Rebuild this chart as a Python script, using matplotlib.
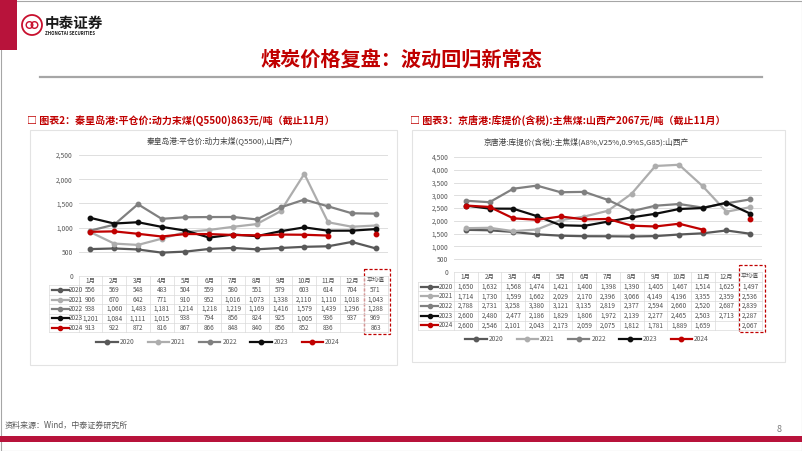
import numpy as np
import matplotlib
matplotlib.use("Agg")
import matplotlib.pyplot as plt
import matplotlib.transforms as mtransforms
from matplotlib.patches import Rectangle, Circle
from matplotlib.lines import Line2D
from matplotlib.ticker import FuncFormatter

plt.rcParams['font.family'] = ['Noto Sans CJK SC', 'DejaVu Sans']

# ---------------------------------------------------------------------------
# data
# ---------------------------------------------------------------------------
months = ["1月", "2月", "3月", "4月", "5月", "6月", "7月", "8月", "9月",
          "10月", "11月", "12月", "平均值"]
years = ["2020", "2021", "2022", "2023", "2024"]
year_colors = ["#595959", "#ADADAD", "#808080", "#0D0D0D", "#C00000"]

nan = np.nan
# 秦皇岛港 平仓价 动力末煤 Q5500 (last value = 平均值)
qhd_2020 = [556, 569, 548, 483, 504, 559, 580, 551, 579, 603, 614, 704, 571]
qhd_2021 = [906, 670, 642, 771, 910, 952, 1016, 1073, 1338, 2110, 1110, 1018, 1043]
qhd_2022 = [938, 1060, 1483, 1181, 1214, 1218, 1219, 1169, 1416, 1579, 1439, 1296, 1288]
qhd_2023 = [1201, 1084, 1111, 1015, 938, 794, 856, 824, 925, 1005, 936, 937, 969]
qhd_2024 = [913, 922, 872, 816, 867, 866, 848, 840, 856, 852, 836, nan, 863]

# 京唐港 库提价 主焦煤 山西产
jt_2020 = [1650, 1632, 1568, 1474, 1421, 1400, 1398, 1390, 1405, 1467, 1514, 1625, 1497]
jt_2021 = [1714, 1730, 1599, 1662, 2029, 2170, 2396, 3066, 4149, 4196, 3355, 2359, 2536]
jt_2022 = [2788, 2731, 3258, 3380, 3121, 3135, 2819, 2377, 2594, 2660, 2520, 2687, 2839]
jt_2023 = [2600, 2480, 2477, 2186, 1829, 1806, 1972, 2139, 2277, 2465, 2503, 2713, 2287]
jt_2024 = [2600, 2546, 2101, 2043, 2173, 2059, 2075, 1812, 1781, 1889, 1659, nan, 2067]

RED = "#C00000"
W, H = 802, 451

fig = plt.figure(figsize=(W / 100, H / 100), dpi=100)
canvas = fig.add_axes([0, 0, 1, 1], zorder=0)
canvas.set_xlim(0, W)
canvas.set_ylim(H, 0)
canvas.axis('off')


def px_axes(x0, x1, ytop, ybot):
    """axes placed by pixel box (y measured from top)"""
    return fig.add_axes([x0 / W, 1 - ybot / H, (x1 - x0) / W, (ybot - ytop) / H], zorder=2)


# ---------------------------------------------------------------------------
# slide frame
# ---------------------------------------------------------------------------
canvas.add_patch(Rectangle((0.5, 0.5), W - 1, H - 1, fill=False, ec="#A6A6A6", lw=0.8))
canvas.add_patch(Rectangle((0, 0), 17, 50, color="#B8133B", lw=0))
canvas.add_patch(Circle((32, 25), 10, fill=False, ec="#C8102E", lw=1.3))
canvas.add_patch(Circle((29.5, 25), 3.3, fill=False, ec="#C8102E", lw=1.0))
canvas.add_patch(Circle((34.5, 25), 3.3, fill=False, ec="#C8102E", lw=1.0))
canvas.text(45, 23, "中泰证券", fontsize=10.5, fontweight='bold', color="#1A1A1A", va='center')
canvas.text(45, 33.5, "ZHONGTAI SECURITIES", fontsize=3.2, fontweight='bold', color="#1A1A1A", va='center')

canvas.text(401, 59, "煤炭价格复盘：波动回归新常态", fontsize=14.5, fontweight='bold',
            color=RED, ha='center', va='center')
canvas.plot([40, 762], [77, 77], color="#A6A6A6", lw=1.6)

canvas.text(27, 121, "□ 图表2：秦皇岛港:平仓价:动力末煤(Q5500)863元/吨（截止11月）",
            fontsize=7.2, fontweight='bold', color=RED, va='center')
canvas.text(410, 121, "□ 图表3：京唐港:库提价(含税):主焦煤:山西产2067元/吨（截止11月）",
            fontsize=7.2, fontweight='bold', color=RED, va='center')

canvas.add_patch(Rectangle((30, 130), 367, 235, fc="white", ec="#E3E3E3", lw=0.8))
canvas.add_patch(Rectangle((412, 130), 373, 232, fc="white", ec="#E3E3E3", lw=0.8))

canvas.text(5, 425, "资料来源：Wind，中泰证券研究所", fontsize=5.8, color="#595959", va='center')
canvas.text(777, 429, "8", fontsize=6.5, color="#7F7F7F", va='center')
canvas.add_patch(Rectangle((0, 436), W, 5.5, color="#B8133B", lw=0))


# ---------------------------------------------------------------------------
# chart + excel-style data table
# ---------------------------------------------------------------------------
def draw_chart(ax, data, ymax, title, tx, ty, top, rh, lab_px, leg_x, leg_y):
    n = len(months)
    x = np.arange(n)
    handles = []
    for yr, vals, c in zip(years, data, year_colors):
        h, = ax.plot(x, vals, color=c, lw=1.6, marker='o', ms=3.2, label=yr, zorder=3)
        handles.append(h)

    ax.set_facecolor('none')
    ax.set_yticks(np.arange(0, ymax + 1, 500))
    ax.yaxis.set_major_formatter(FuncFormatter(lambda v, p: f"{int(v):,}"))
    ax.tick_params(axis='y', length=0, labelsize=4.8, labelcolor="#595959", pad=4)
    ax.set_xticks([])
    ax.grid(axis='y', color="#D9D9D9", lw=0.6)
    ax.set_axisbelow(True)
    for s in ax.spines.values():
        s.set_visible(False)

    canvas.text(tx, ty, title, fontsize=5.6, color="#404040", ha='center', va='center')

    bt = mtransforms.blended_transform_factory(ax.transData, canvas.transData)
    pos = ax.get_position()
    col_px = pos.width * W / n
    lab = -0.5 - lab_px / col_px          # label column left edge in data units
    bottom = top + rh * 6
    gc = "#DADADA"
    tc = "#505050"

    def hline(x0, x1, y):
        ax.add_artist(Line2D([x0, x1], [y, y], transform=bt, color=gc, lw=0.5, clip_on=False))

    def vline(xv, y0, y1):
        ax.add_artist(Line2D([xv, xv], [y0, y1], transform=bt, color=gc, lw=0.5, clip_on=False))

    hline(-0.5, n - 0.5, top)
    for r in range(1, 7):
        hline(lab, n - 0.5, top + rh * r)
    vline(lab, top + rh, bottom)
    for k in range(n + 1):
        vline(-0.5 + k, top, bottom)

    for i, m in enumerate(months):
        ax.text(i, top + rh * 0.5, m, transform=bt, ha='center', va='center',
                fontsize=4.6 if i < n - 1 else 4.3, color=tc, clip_on=False)

    for r, (yr, vals, c) in enumerate(zip(years, data, year_colors)):
        yc = top + rh * (r + 1.5)
        for i, v in enumerate(vals):
            if not np.isnan(v):
                ax.text(i, yc, f"{int(v):,}", transform=bt, ha='center', va='center',
                        fontsize=4.6, color=tc, clip_on=False)
        s0 = lab + 3 / col_px
        s1 = lab + 20 / col_px
        ax.add_artist(Line2D([s0, (s0 + s1) / 2, s1], [yc, yc, yc], transform=bt, color=c,
                             lw=1.6, marker='o', ms=3, markevery=[1], clip_on=False))
        ax.text(s1 + 0.5 / col_px, yc, yr, transform=bt, ha='left', va='center',
                fontsize=4.6, color=tc, clip_on=False)

    ax.add_artist(Rectangle((n - 1.5 + 0.03, top - 7), 1.08, rh * 6 + 9, transform=bt,
                            fill=False, ec=RED, lw=0.9, ls=(0, (2.5, 1.5)), clip_on=False))

    leg = ax.legend(handles, years, loc='center', bbox_to_anchor=(leg_x / W, 1 - leg_y / H),
                    bbox_transform=fig.transFigure, ncol=5, frameon=False, fontsize=4.8,
                    handlelength=3.2, columnspacing=2.0, handletextpad=0.3)
    for t in leg.get_texts():
        t.set_color("#595959")

    ax.set_xlim(-0.5, n - 0.5)
    ax.set_ylim(0, ymax)


ax1 = px_axes(78.5, 387.5, 155, 276)
draw_chart(ax1, [qhd_2020, qhd_2021, qhd_2022, qhd_2023, qhd_2024], 2500,
           "秦皇岛港:平仓价:动力末煤(Q5500),山西产)", 220, 141,
           276, 9.4, 30, 218, 342)

ax2 = px_axes(454, 762, 157, 272)
draw_chart(ax2, [jt_2020, jt_2021, jt_2022, jt_2023, jt_2024], 4500,
           "京唐港:库提价(含税):主焦煤(A8%,V25%,0.9%S,G85):山西产", 586, 142,
           272, 9.7, 36, 587, 339)

fig.savefig("out.png", dpi=100)
